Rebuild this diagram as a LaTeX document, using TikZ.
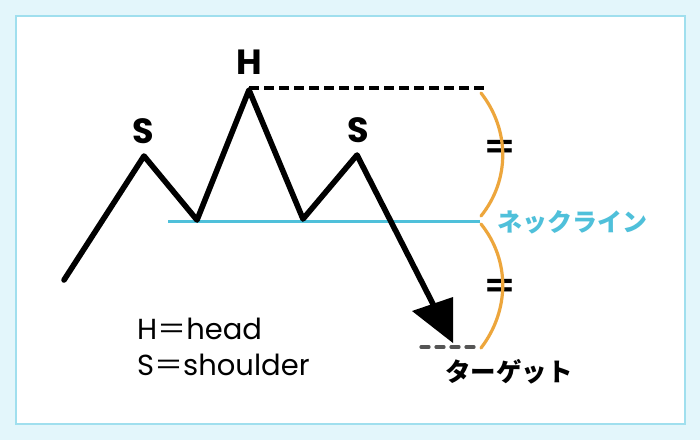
\documentclass[tikz,border=0pt]{standalone}
\usepackage{fontspec}
\setmainfont{Noto Sans CJK JP}
\newfontfamily\latinfont{Poppins}
\usepackage{tikz}
\definecolor{pale}{HTML}{E3F6FB}
\definecolor{frame}{HTML}{A0DFEE}
\definecolor{neck}{HTML}{4FC0DA}
\definecolor{arc}{HTML}{EDA63C}
\definecolor{tgt}{HTML}{555555}
\begin{document}
\begin{tikzpicture}[x=1pt, y=-1pt,
	price/.style={line width=5.6pt, line join=round, line cap=round},
	lbl/.style={inner sep=0pt, font=\latinfont\bfseries\fontsize{35}{35}\selectfont},
	eq/.style={inner sep=0pt, font=\bfseries\fontsize{35}{35}\selectfont},
	legend/.style={inner sep=0pt, anchor=west, font=\latinfont\fontsize{29}{29}\selectfont},
	bow/.style={arc, line width=3.2pt, line cap=round}]
		\useasboundingbox (0,0) rectangle (700,440);
		\fill[pale] (0,0) rectangle (700,440);
		\draw[frame, fill=white, line width=2pt] (15.5,16) rectangle (685,424);

		\coordinate (start) at (64,280);
		\coordinate (s1) at (144,156);
		\coordinate (v1) at (197,220);
		\coordinate (h) at (249,90);
		\coordinate (v2) at (303,219);
		\coordinate (s2) at (357,155);
		\coordinate (tip) at (453,343);
		\coordinate (left) at (412,311);
		\coordinate (right) at (453,297);
		\coordinate (neckl) at (168,221);
		\coordinate (neckr) at (480,221);
		\coordinate (headl) at (249,88);
		\coordinate (headr) at (487,88);
		\coordinate (tgtl) at (421,347);
		\coordinate (tgtr) at (477,347);
		\coordinate (a) at (481,93);
		\coordinate (b) at (481,216);
		\coordinate (c) at (481,224);
		\coordinate (d) at (481,348);

		\node[lbl] (hlabel) at (249,62) {H};
		\node[lbl] (s1label) at (143,131) {S};
		\node[lbl] (s2label) at (358,130) {S};
		\node[eq] (eq1) at (500,150) {＝};
		\node[eq] (eq2) at (500,289) {＝};
		\node[inner sep=0pt, neck, font=\bfseries\fontsize{25}{25}\selectfont] (neckline) at (572,222) {ネックライン};
		\node[inner sep=0pt, font=\bfseries\fontsize{25.5}{25.5}\selectfont] (target) at (509,372) {ターゲット};
		\node[legend] (lh) at (137,329) {H{\rmfamily ＝}head};
		\node[legend] (ls) at (137,365) {S{\rmfamily ＝}shoulder};

		\draw[neck, line width=3pt] (neckl) -- (neckr);
		\draw[line width=3.2pt, dash pattern=on 10pt off 5pt] (headl) -- (headr);
		\draw[tgt, line width=3.2pt, dash pattern=on 8pt off 7pt, line cap=round] (tgtl) -- (tgtr);
		\draw[bow] (a) .. controls (510,130) and (510,180) .. (b);
		\draw[bow] (c) .. controls (510,260) and (510,310) .. (d);
		\draw[price] (start) -- (s1) -- (v1) -- (h) -- (v2) -- (s2) -- (434,306);
		\fill (tip) -- (left) -- (right) -- cycle;
	\end{tikzpicture}
\end{document}
